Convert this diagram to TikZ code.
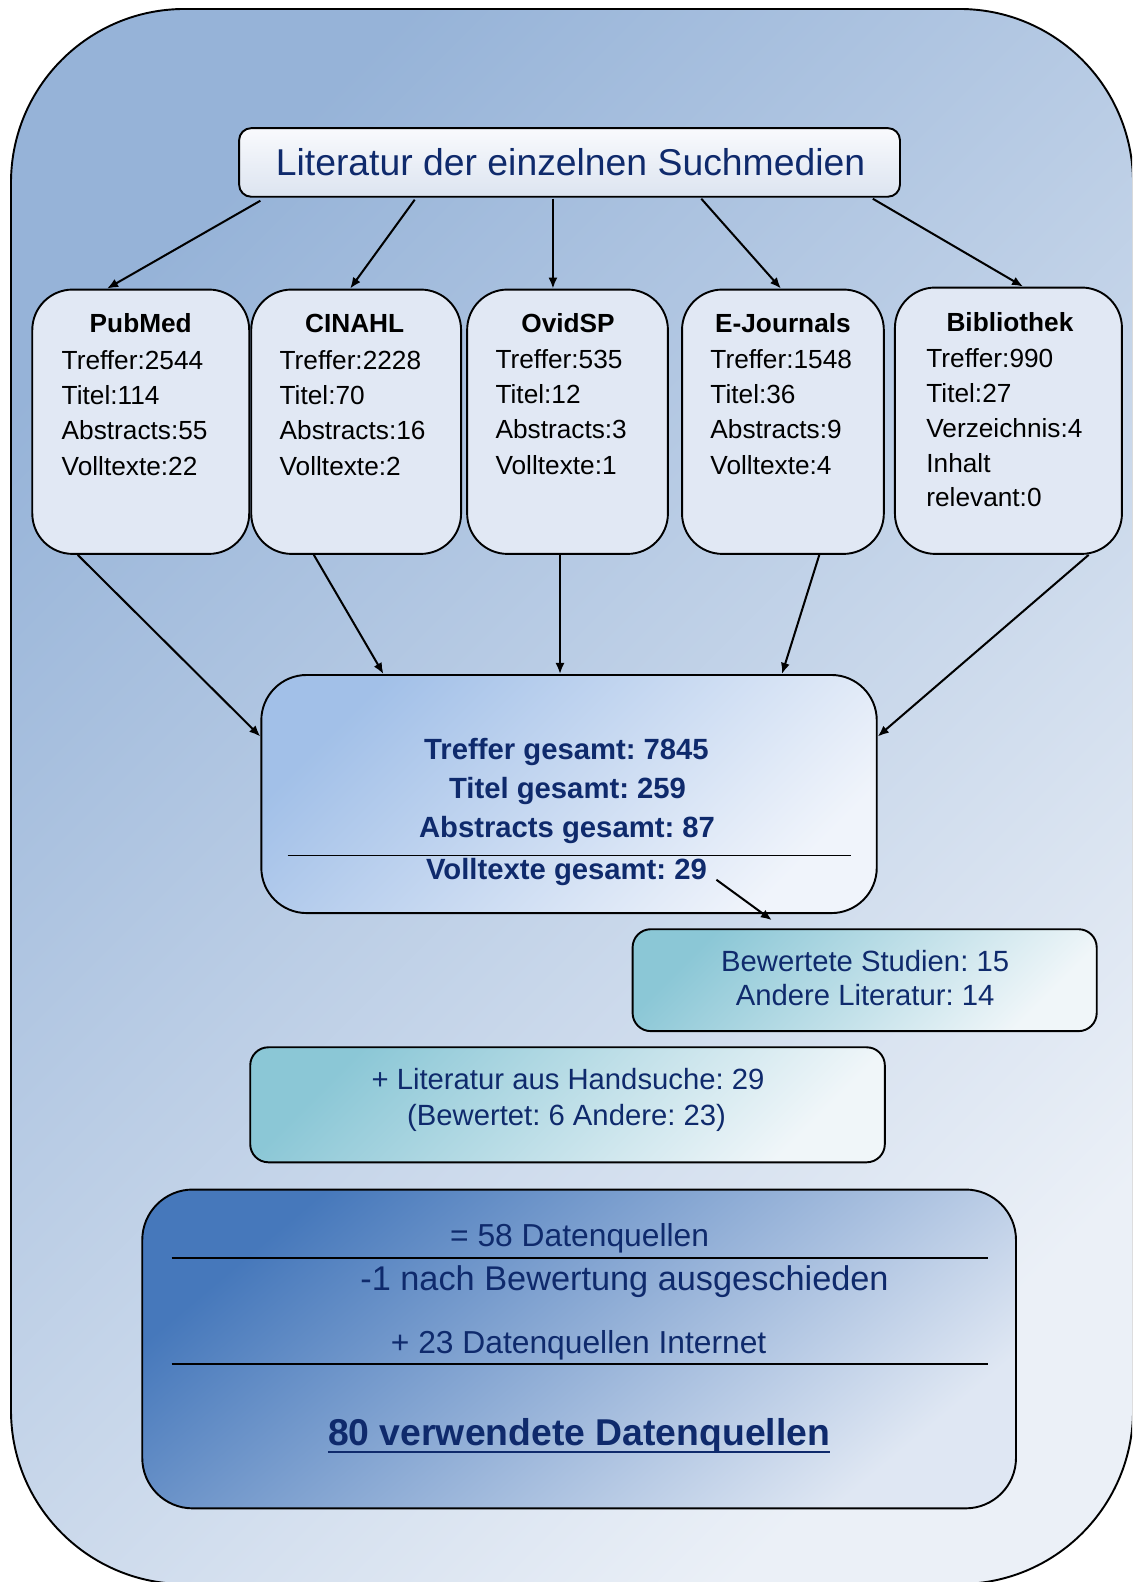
\documentclass[tikz,border=0pt]{standalone}
\usepackage{fontspec}
\setmainfont{Liberation Sans}
\frenchspacing
\usetikzlibrary{arrows.meta}
\definecolor{txtnavy}{HTML}{0F2A6C}
\definecolor{outerA}{HTML}{96B3D8}
\definecolor{outerB}{HTML}{EBF0F7}
\definecolor{srcfill}{HTML}{E1E8F4}
\definecolor{titleA}{HTML}{F9FAFD}
\definecolor{titleB}{HTML}{DCE4F0}
\definecolor{cenA}{HTML}{A2C0E8}
\definecolor{cenB}{HTML}{F0F4FB}
\definecolor{tealA}{HTML}{8BC7D6}
\definecolor{tealB}{HTML}{F0F6F9}
\definecolor{botA}{HTML}{4678BB}
\definecolor{botB}{HTML}{DFE7F3}
\newcommand{\myfs}[1]{\fontsize{#1}{#1}\selectfont}
\begin{document}
\begin{tikzpicture}[x=1pt,y=-1pt,
  boxline/.style={draw=black,line width=1.9pt,inner sep=0pt},
  titlebox/.style={boxline,rounded corners=12pt,top color=titleA,bottom color=titleB},
  srcbox/.style={boxline,rounded corners=40pt,fill=srcfill},
  cenbox/.style={boxline,rounded corners=45pt,top color=cenA,bottom color=cenB,shading angle=45},
  tealbox/.style={boxline,rounded corners=18pt,top color=tealA,bottom color=tealB,shading angle=45},
  botbox/.style={boxline,rounded corners=50pt,top color=botA,bottom color=botB,shading angle=40},
  arr/.style={line width=2pt,-{Latex[length=11pt,width=9pt]}},
  sepline/.style={line width=1.9pt},
  head/.style={anchor=base,inner sep=0pt,font=\myfs{26}\bfseries},
  body/.style={anchor=base west,inner sep=0pt,font=\myfs{26}},
  centxt/.style={anchor=base,inner sep=0pt,text=txtnavy,font=\myfs{29}\bfseries},
  tealtxt/.style={anchor=base,inner sep=0pt,text=txtnavy,font=\myfs{29}},
  bottxt/.style={anchor=base,inner sep=0pt,text=txtnavy,font=\myfs{31.5}}]
\useasboundingbox (0,0) rectangle (1122,1568);
\clip (0,0) rectangle (1122,1568);
% outer frame
\draw[line width=1.9pt,rounded corners=172pt,top color=outerA,bottom color=outerB,shading angle=45]
  (10.9,8.9) rectangle (1123,1570);

% title
\node[titlebox,minimum width=655pt,minimum height=68pt] (title) at (564.5,161) {};
\node[anchor=base,inner sep=0pt,text=txtnavy,font=\myfs{37}] (titletxt) at (565.5,174) {Literatur der einzelnen Suchmedien};

% source boxes
\node[srcbox,minimum width=215pt,minimum height=262pt] (pub) at (139.5,418) {};
\node[srcbox,minimum width=208pt,minimum height=262pt] (cin) at (353,418) {};
\node[srcbox,minimum width=199pt,minimum height=262pt] (ovid) at (562.5,418) {};
\node[srcbox,minimum width=200pt,minimum height=262pt] (ej) at (776,418) {};
\node[srcbox,minimum width=225pt,minimum height=264pt] (bib) at (999.5,417) {};

\node[head] (pubh) at (139.5,330) {PubMed};
\foreach \t [count=\i] in {Treffer:2544,Titel:114,Abstracts:55,Volltexte:22}
  \node[body] (pub-\i) at (61,331+35*\i) {\t};
\node[head] (cinh) at (351.5,330) {CINAHL};
\foreach \t [count=\i] in {Treffer:2228,Titel:70,Abstracts:16,Volltexte:2}
  \node[body] (cin-\i) at (277,331+35*\i) {\t};
\node[head] (ovidh) at (563,330) {OvidSP};
\foreach \t [count=\i] in {Treffer:535,Titel:12,Abstracts:3,Volltexte:1}
  \node[body] (ovid-\i) at (491,330+35*\i) {\t};
\node[head] (ejh) at (776,330) {E-Journals};
\foreach \t [count=\i] in {Treffer:1548,Titel:36,Abstracts:9,Volltexte:4}
  \node[body] (ej-\i) at (704,330+35*\i) {\t};
\node[head] (bibh) at (1001,329) {Bibliothek};
\foreach \t [count=\i] in {Treffer:990,Titel:27,Verzeichnis:4,Inhalt,relevant:0}
  \node[body] (bib-\i) at (918,330+34.5*\i) {\t};

% arrows title -> sources
\draw[arr] ([xshift=22pt,yshift=-3pt]title.south west) -- ([xshift=75pt]pub.north west);
\draw[arr] ([xshift=175pt,yshift=-2pt]title.south west) -- ([xshift=99pt]cin.north west);
\draw[arr] ([xshift=312pt,yshift=-1pt]title.south west) -- ([xshift=86pt]ovid.north west);
\draw[arr] ([xshift=459pt,yshift=-1pt]title.south west) -- ([xshift=99pt]ej.north west);
\draw[arr] ([xshift=629pt,yshift=-1pt]title.south west) -- ([xshift=128pt]bib.north west);

% center box
\node[cenbox,minimum width=610pt,minimum height=236pt] (cen) at (564,787) {};
\node[centxt] (c1) at (561.5,753) {Treffer gesamt: 7845};
\node[centxt] (c2) at (562.5,791) {Titel gesamt: 259};
\node[centxt] (c3) at (562,830) {Abstracts gesamt: 87};
\node[centxt] (c4) at (561.5,872) {Volltexte gesamt: 29};
\draw[sepline] ([xshift=27pt,yshift=58pt]cen.south west) -- ([xshift=-26pt,yshift=58pt]cen.south east);

% arrows sources -> center
\draw[arr] ([xshift=46pt]pub.south west) -- ([yshift=57pt]cen.west);
\draw[arr] ([xshift=63pt]cin.south west) -- ([xshift=122pt]cen.north west);
\draw[arr] ([xshift=93pt]ovid.south west) -- ([xshift=297pt]cen.north west);
\draw[arr] ([xshift=137pt]ej.south west) -- ([xshift=517pt]cen.north west);
\draw[arr] ([xshift=193pt]bib.south west) -- ([yshift=57pt]cen.east);

% assessed
\node[tealbox,minimum width=460pt,minimum height=101pt] (bew) at (857,971.5) {};
\node[tealtxt] (b1) at (857.5,963) {Bewertete Studien: 15};
\node[tealtxt] (b2) at (857.5,997) {Andere Literatur: 14};
\draw[arr] ([xshift=452pt,yshift=34pt]cen.south west) -- ([xshift=139pt,yshift=8pt]bew.north west);

% hand search
\node[tealbox,minimum width=629pt,minimum height=114pt] (hand) at (562.5,1095) {};
\node[tealtxt] (h1) at (563,1080) {+ Literatur aus Handsuche: 29};
\node[tealtxt] (h2) at (561.5,1116) {(Bewertet: 6 Andere: 23)};

% bottom box
\node[botbox,minimum width=866pt,minimum height=316pt] (bot) at (574,1337) {};
\node[bottxt] (s1) at (574.5,1235) {= 58 Datenquellen};
\node[bottxt,font=\myfs{34}] (s2) at (619,1279) {-1 nach Bewertung ausgeschieden};
\node[bottxt] (s3) at (573.5,1342) {+ 23 Datenquellen Internet};
\node[bottxt,font=\myfs{37}\bfseries] (s4) at (574,1433) {80 verwendete Datenquellen};
\draw[line width=2.6pt,txtnavy] ([yshift=-6pt]s4.base west) -- ([yshift=-6pt]s4.base east);
\draw[sepline] ([xshift=30pt,yshift=249pt]bot.south west) -- ([xshift=-29pt,yshift=249pt]bot.south east);
\draw[sepline] ([xshift=30pt,yshift=144pt]bot.south west) -- ([xshift=-29pt,yshift=144pt]bot.south east);
\end{tikzpicture}
\end{document}
